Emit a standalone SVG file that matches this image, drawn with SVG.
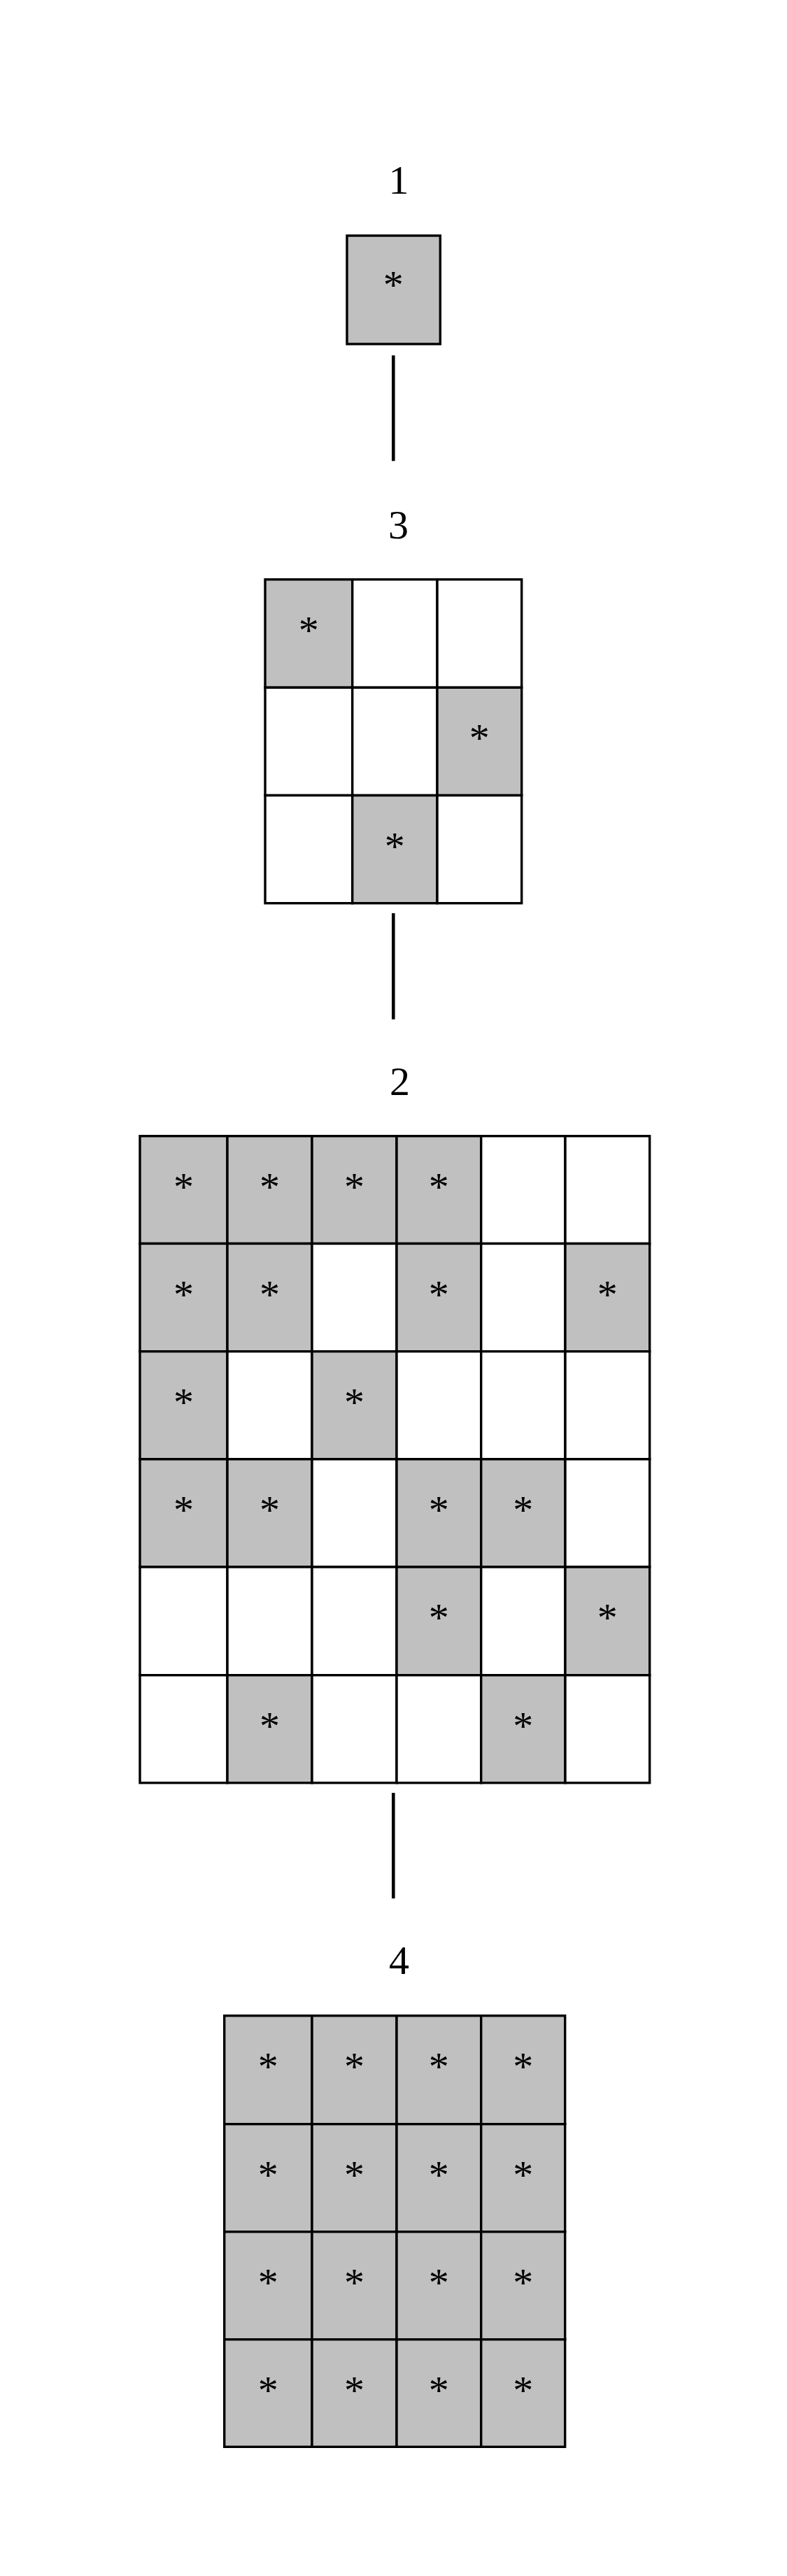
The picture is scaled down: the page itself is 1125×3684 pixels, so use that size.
<svg xmlns="http://www.w3.org/2000/svg" width="1125" height="3684" viewBox="0 0 1125 3684">
<style>
.g{fill:#c0c0c0;stroke:#000;stroke-width:3.4}
.w{fill:#fff;stroke:#000;stroke-width:3.4}
.a{font-family:"Liberation Serif","Times New Roman",serif;font-size:58px;text-anchor:middle;fill:#000}
.l{font-family:"Liberation Serif","Times New Roman",serif;font-size:58px;text-anchor:middle;fill:#000}
.e{stroke:#000;stroke-width:4.6;fill:none}
</style>
<rect x="0" y="0" width="1125" height="3684" fill="#fff"/>
<g id="connectors">
<line class="e" x1="562.3" y1="508.3" x2="562.3" y2="659.3"/>
<line class="e" x1="562.3" y1="1306" x2="562.3" y2="1457.7"/>
<line class="e" x1="562.3" y1="2564" x2="562.3" y2="2715"/>
</g>
<g id="node1">
<text class="l" x="570" y="277.3">1</text>
<rect class="g" x="496" y="337" width="133.3" height="155"/>
<text class="a" x="562.3" y="427">*</text>
</g>
<g id="node3">
<text class="l" x="569.5" y="769.5">3</text>
<rect class="g" x="379" y="828.7" width="124.7" height="154.6"/>
<rect class="w" x="503.7" y="828.7" width="121.3" height="154.6"/>
<rect class="w" x="625" y="828.7" width="120.7" height="154.6"/>
<rect class="w" x="379" y="983.3" width="124.7" height="154.2"/>
<rect class="w" x="503.7" y="983.3" width="121.3" height="154.2"/>
<rect class="g" x="625" y="983.3" width="120.7" height="154.2"/>
<rect class="w" x="379" y="1137.5" width="124.7" height="154.2"/>
<rect class="g" x="503.7" y="1137.5" width="121.3" height="154.2"/>
<rect class="w" x="625" y="1137.5" width="120.7" height="154.2"/>
<text class="a" x="441.35" y="921">*</text>
<text class="a" x="685.35" y="1075.4">*</text>
<text class="a" x="564.35" y="1229.6">*</text>
</g>
<g id="node2">
<text class="l" x="571.5" y="1565.7">2</text>
<rect class="g" x="200" y="1624.7" width="125" height="153.8"/>
<rect class="g" x="325" y="1624.7" width="121" height="153.8"/>
<rect class="g" x="446" y="1624.7" width="121" height="153.8"/>
<rect class="g" x="567" y="1624.7" width="120.7" height="153.8"/>
<rect class="w" x="687.7" y="1624.7" width="120.3" height="153.8"/>
<rect class="w" x="808" y="1624.7" width="120.7" height="153.8"/>
<rect class="g" x="200" y="1778.5" width="125" height="154.2"/>
<rect class="g" x="325" y="1778.5" width="121" height="154.2"/>
<rect class="w" x="446" y="1778.5" width="121" height="154.2"/>
<rect class="g" x="567" y="1778.5" width="120.7" height="154.2"/>
<rect class="w" x="687.7" y="1778.5" width="120.3" height="154.2"/>
<rect class="g" x="808" y="1778.5" width="120.7" height="154.2"/>
<rect class="g" x="200" y="1932.7" width="125" height="154.1"/>
<rect class="w" x="325" y="1932.7" width="121" height="154.1"/>
<rect class="g" x="446" y="1932.7" width="121" height="154.1"/>
<rect class="w" x="567" y="1932.7" width="120.7" height="154.1"/>
<rect class="w" x="687.7" y="1932.7" width="120.3" height="154.1"/>
<rect class="w" x="808" y="1932.7" width="120.7" height="154.1"/>
<rect class="g" x="200" y="2086.8" width="125" height="154.2"/>
<rect class="g" x="325" y="2086.8" width="121" height="154.2"/>
<rect class="w" x="446" y="2086.8" width="121" height="154.2"/>
<rect class="g" x="567" y="2086.8" width="120.7" height="154.2"/>
<rect class="g" x="687.7" y="2086.8" width="120.3" height="154.2"/>
<rect class="w" x="808" y="2086.8" width="120.7" height="154.2"/>
<rect class="w" x="200" y="2241" width="125" height="154.7"/>
<rect class="w" x="325" y="2241" width="121" height="154.7"/>
<rect class="w" x="446" y="2241" width="121" height="154.7"/>
<rect class="g" x="567" y="2241" width="120.7" height="154.7"/>
<rect class="w" x="687.7" y="2241" width="120.3" height="154.7"/>
<rect class="g" x="808" y="2241" width="120.7" height="154.7"/>
<rect class="w" x="200" y="2395.7" width="125" height="154"/>
<rect class="g" x="325" y="2395.7" width="121" height="154"/>
<rect class="w" x="446" y="2395.7" width="121" height="154"/>
<rect class="w" x="567" y="2395.7" width="120.7" height="154"/>
<rect class="g" x="687.7" y="2395.7" width="120.3" height="154"/>
<rect class="w" x="808" y="2395.7" width="120.7" height="154"/>
<text class="a" x="262.5" y="1716.6">*</text>
<text class="a" x="385.5" y="1716.6">*</text>
<text class="a" x="506.5" y="1716.6">*</text>
<text class="a" x="627.35" y="1716.6">*</text>
<text class="a" x="262.5" y="1870.6">*</text>
<text class="a" x="385.5" y="1870.6">*</text>
<text class="a" x="627.35" y="1870.6">*</text>
<text class="a" x="868.35" y="1870.6">*</text>
<text class="a" x="262.5" y="2024.75">*</text>
<text class="a" x="506.5" y="2024.75">*</text>
<text class="a" x="262.5" y="2178.9">*</text>
<text class="a" x="385.5" y="2178.9">*</text>
<text class="a" x="627.35" y="2178.9">*</text>
<text class="a" x="747.85" y="2178.9">*</text>
<text class="a" x="627.35" y="2333.35">*</text>
<text class="a" x="868.35" y="2333.35">*</text>
<text class="a" x="385.5" y="2487.7">*</text>
<text class="a" x="747.85" y="2487.7">*</text>
</g>
<g id="node4">
<text class="l" x="570.5" y="2823">4</text>
<rect class="g" x="320.7" y="2882.7" width="125.3" height="155"/>
<rect class="g" x="446" y="2882.7" width="121" height="155"/>
<rect class="g" x="567" y="2882.7" width="120.7" height="155"/>
<rect class="g" x="687.7" y="2882.7" width="120" height="155"/>
<rect class="g" x="320.7" y="3037.7" width="125.3" height="154"/>
<rect class="g" x="446" y="3037.7" width="121" height="154"/>
<rect class="g" x="567" y="3037.7" width="120.7" height="154"/>
<rect class="g" x="687.7" y="3037.7" width="120" height="154"/>
<rect class="g" x="320.7" y="3191.7" width="125.3" height="154"/>
<rect class="g" x="446" y="3191.7" width="121" height="154"/>
<rect class="g" x="567" y="3191.7" width="120.7" height="154"/>
<rect class="g" x="687.7" y="3191.7" width="120" height="154"/>
<rect class="g" x="320.7" y="3345.7" width="125.3" height="153.6"/>
<rect class="g" x="446" y="3345.7" width="121" height="153.6"/>
<rect class="g" x="567" y="3345.7" width="120.7" height="153.6"/>
<rect class="g" x="687.7" y="3345.7" width="120" height="153.6"/>
<text class="a" x="383.35" y="2975.2">*</text>
<text class="a" x="506.5" y="2975.2">*</text>
<text class="a" x="627.35" y="2975.2">*</text>
<text class="a" x="747.7" y="2975.2">*</text>
<text class="a" x="383.35" y="3129.7">*</text>
<text class="a" x="506.5" y="3129.7">*</text>
<text class="a" x="627.35" y="3129.7">*</text>
<text class="a" x="747.7" y="3129.7">*</text>
<text class="a" x="383.35" y="3283.7">*</text>
<text class="a" x="506.5" y="3283.7">*</text>
<text class="a" x="627.35" y="3283.7">*</text>
<text class="a" x="747.7" y="3283.7">*</text>
<text class="a" x="383.35" y="3437.5">*</text>
<text class="a" x="506.5" y="3437.5">*</text>
<text class="a" x="627.35" y="3437.5">*</text>
<text class="a" x="747.7" y="3437.5">*</text>
</g>
</svg>
